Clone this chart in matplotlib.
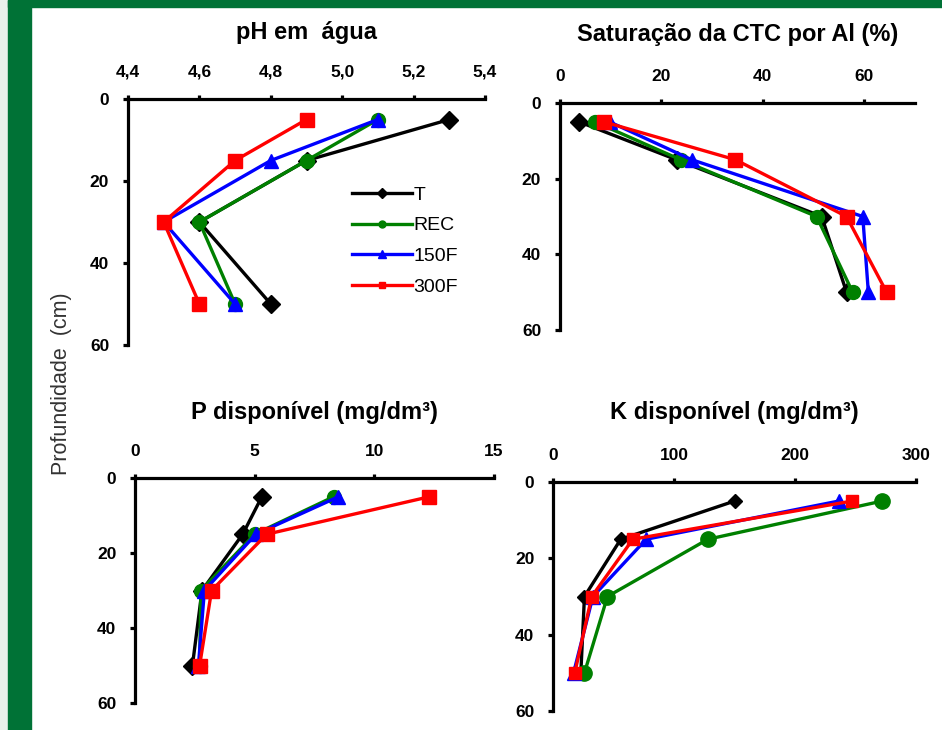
import matplotlib.pyplot as plt
from matplotlib.patches import Rectangle

plt.rcParams['font.family'] = ['Liberation Sans', 'DejaVu Sans']

# profundidade (cm)
depth = [5, 15, 30, 50]
series = ['T', 'REC', '150F', '300F']

# pH em agua
ph_T = [5.3, 4.9, 4.6, 4.8]
ph_REC = [5.1, 4.9, 4.6, 4.7]
ph_150F = [5.1, 4.8, 4.5, 4.7]
ph_300F = [4.9, 4.7, 4.5, 4.6]

# saturacao da CTC por Al (%)
sat_T = [3.8, 23.0, 51.6, 56.5]
sat_REC = [6.9, 23.8, 50.6, 57.7]
sat_150F = [9.8, 26.0, 59.7, 60.8]
sat_300F = [8.7, 34.6, 56.5, 64.4]

# P disponivel (mg/dm3)
p_T = [5.3, 4.5, 2.8, 2.4]
p_REC = [8.3, 5.0, 2.75, 2.7]
p_150F = [8.5, 5.05, 2.9, 2.65]
p_300F = [12.3, 5.5, 3.2, 2.7]

# K disponivel (mg/dm3)
k_T = [150, 56, 26, 23]
k_REC = [272, 128, 45, 26]
k_150F = [236, 77, 33, 17]
k_300F = [247, 66, 32, 18]

colors = ['#000000', '#008000', '#0000ff', '#ff0000']
markers = ['D', 'o', '^', 's']

fig = plt.figure(figsize=(9.42, 7.30), dpi=100)

# moldura verde
fig.patches.append(Rectangle((0, 0), 8 / 942, 1, transform=fig.transFigure,
                             color='#e9f0eb', zorder=0))
fig.patches.append(Rectangle((8 / 942, 0), 23 / 942, 1, transform=fig.transFigure,
                             color='#007236', zorder=0))
fig.patches.append(Rectangle((8 / 942, 1 - 7 / 730), 1, 7 / 730, transform=fig.transFigure,
                             color='#007236', zorder=0))


def painel(rect, data, xlim, xticks, xlabels, title, title_y, ms):
    ax = fig.add_axes(rect)
    for i in range(4):
        ax.plot(data[i], depth, color=colors[i], marker=markers[i], lw=2.4,
                ms=ms[i], label=series[i], clip_on=False)
    ax.set_xlim(*xlim)
    ax.set_ylim(60, 0)
    ax.set_xticks(xticks)
    ax.set_xticklabels(xlabels)
    ax.set_yticks([0, 20, 40, 60])
    ax.spines['bottom'].set_visible(False)
    ax.spines['right'].set_visible(False)
    ax.spines['top'].set_linewidth(2.3)
    ax.spines['left'].set_linewidth(2.3)
    ax.xaxis.tick_top()
    ax.tick_params(axis='x', direction='out', length=3, width=2.3, pad=11)
    ax.tick_params(axis='y', direction='out', length=3.5, width=2.3, pad=10)
    for t in ax.get_xticklabels() + ax.get_yticklabels():
        t.set_fontsize(12.5)
        t.set_fontweight('bold')
    ax.patch.set_alpha(0)
    x0, y0, w, h = rect
    fig.text(x0 + w / 2, title_y, title, ha='center', va='center',
             fontsize=17, fontweight='bold')
    return ax


big = [9.5, 10, 10.5, 9.5]

ax1 = painel([128 / 942, 1 - 345 / 730, 357 / 942, 246 / 730],
             [ph_T, ph_REC, ph_150F, ph_300F], (4.4, 5.4),
             [4.4, 4.6, 4.8, 5.0, 5.2, 5.4],
             ['4,4', '4,6', '4,8', '5,0', '5,2', '5,4'],
             'pH em  água', 1 - 32 / 730, big)

ax2 = painel([560 / 942, 1 - 330 / 730, 355 / 942, 227 / 730],
             [sat_T, sat_REC, sat_150F, sat_300F], (0, 70),
             [0, 20, 40, 60], ['0', '20', '40', '60'],
             'Saturação da CTC por Al (%)', 1 - 34 / 730, big)

ax3 = painel([135 / 942, 1 - 703 / 730, 359 / 942, 225 / 730],
             [p_T, p_REC, p_150F, p_300F], (0, 15),
             [0, 5, 10, 15], ['0', '5', '10', '15'],
             'P disponível (mg/dm³)', 1 - 412 / 730, big)

ax4 = painel([553 / 942, 1 - 711 / 730, 363 / 942, 229 / 730],
             [k_T, k_REC, k_150F, k_300F], (0, 300),
             [0, 100, 200, 300], ['0', '100', '200', '300'],
             'K disponível (mg/dm³)', 1 - 413 / 730, [7, 11, 10, 9])

ax1.legend(loc='upper left', bbox_to_anchor=(352 / 942, 1 - 186 / 730),
           bbox_transform=fig.transFigure, frameon=False, fontsize=14,
           handlelength=3.1, handletextpad=0.05, labelspacing=0.68,
           borderpad=0, borderaxespad=0, markerscale=0.5)

fig.text(62 / 942, 1 - 384 / 730, 'Profundidade  (cm)', rotation=90,
         ha='center', va='center', fontsize=15.5, color='#333333')

fig.savefig('out.png', dpi=100)
